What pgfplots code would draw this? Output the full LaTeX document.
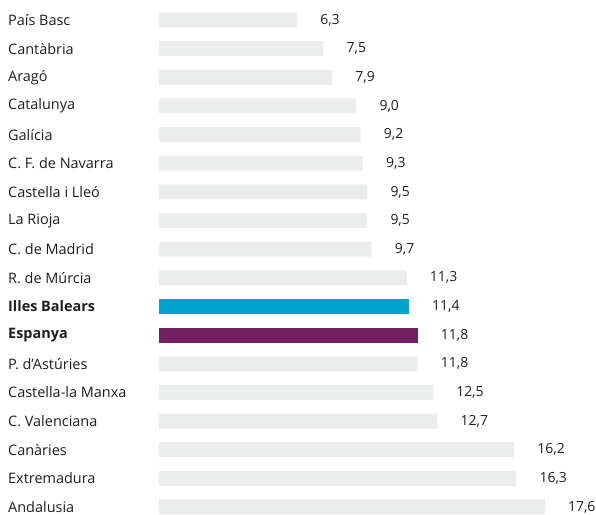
\documentclass[border=0pt]{standalone}
\usepackage{pgfplots}
\pgfplotsset{compat=1.18}
\usepackage{fontspec}
\setmainfont{Open Sans}
\definecolor{barg}{HTML}{EBECEC}
\definecolor{barb}{HTML}{00A3CC}
\definecolor{barp}{HTML}{721F61}
\definecolor{txt}{HTML}{1E1E1E}
\begin{document}
\begin{tikzpicture}
\useasboundingbox (0,0) rectangle (596bp,515bp);
\begin{axis}[
  at={(159bp,0bp)}, anchor=south west,
  scale only axis, width=437bp, height=515bp,
  xmin=0, xmax=19.93,
  ymin=-0.698, ymax=17.28, y dir=reverse,
  axis x line=none,
  axis y line*=left,
  y axis line style={draw=none},
  ytick style={draw=none},
  major tick length=0pt,
  clip=false,
  xbar, bar shift=0pt, bar width=15bp,
  ytick={0,...,17},
  yticklabels={País Basc,Cantàbria,Aragó,Catalunya,Galícia,C. F. de Navarra,Castella i Lleó,La Rioja,C. de Madrid,R. de Múrcia,\textbf{Illes Balears},\textbf{Espanya},P. d’Astúries,Castella-la Manxa,C. Valenciana,Canàries,Extremadura,Andalusia},
  yticklabel style={anchor=west, xshift=-151bp, inner sep=0pt, text=txt, font=\fontsize{14.5}{17}\selectfont},
  nodes near coords,
  every node near coord/.append style={anchor=west, xshift=23bp, inner sep=0pt, text=txt, font=\fontsize{14}{17}\selectfont},
  /pgf/number format/.cd, use comma, fixed, fixed zerofill, precision=1, assume math mode=true,
]
\addplot[fill=barg, draw=none] coordinates {
(6.3,0) (7.5,1) (7.9,2) (9.0,3) (9.2,4) (9.3,5) (9.5,6) (9.5,7) (9.7,8) (11.3,9)
(11.8,12) (12.5,13) (12.7,14) (16.2,15) (16.3,16) (17.6,17)};
\addplot[fill=barb, draw=none] coordinates {(11.4,10)};
\addplot[fill=barp, draw=none] coordinates {(11.8,11)};
\end{axis}
\end{tikzpicture}
\end{document}
